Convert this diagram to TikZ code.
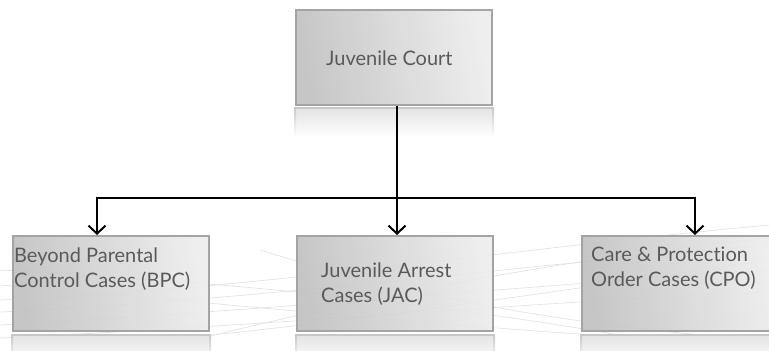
\documentclass[tikz,border=0pt]{standalone}
\usepackage{fontspec}
\setmainfont[Ligatures={NoCommon}]{Lato}
\usetikzlibrary{arrows.meta}
\definecolor{txt}{HTML}{5A5A5A}
\definecolor{edge}{HTML}{A4A4A4}
\tikzset{
  box/.style={draw=edge, line width=2pt, minimum width=196pt, minimum height=95pt,
    inner sep=0pt, shading=axis, left color=black!24, right color=black!7, shading angle=100, fill opacity=0.93},
  lbl/.style={text=txt, anchor=base west, align=left, inner sep=0pt,
    font=\fontsize{20}{25}\selectfont},
  refl/.style={top color=black!11, bottom color=white, draw=none},
  reflside/.style={top color=black!22, bottom color=white, draw=none},
  conn/.style={line width=2pt, black},
  arr/.style={conn, -{Straight Barb[length=8pt,width=17pt,line width=2pt]}},
  swoosh/.style={black!11, line width=0.7pt}
}
\begin{document}
\begin{tikzpicture}[x=1pt,y=-1pt]
\useasboundingbox (0,0) rectangle (769,351);
% background swooshes
\draw[swoosh] (0,300) .. controls (250,290) and (500,250) .. (769,225);
\draw[swoosh] (0,312) .. controls (260,300) and (520,265) .. (769,245);
\draw[swoosh] (0,325) .. controls (270,310) and (540,285) .. (769,270);
\draw[swoosh] (0,338) .. controls (280,325) and (560,300) .. (769,292);
\draw[swoosh] (0,285) .. controls (200,300) and (450,330) .. (769,345);
\draw[swoosh] (150,351) .. controls (350,300) and (550,260) .. (769,238);
\draw[swoosh] (40,351) .. controls (300,330) and (500,300) .. (769,260);
\draw[swoosh] (0,270) .. controls (300,285) and (560,320) .. (700,351);
\draw[swoosh] (260,250) .. controls (420,300) and (600,330) .. (769,340);
% reflections
\foreach \cx/\ty in {394/107,111/334,395/334,680/334}{
  \fill[refl] (\cx-99,\ty) rectangle (\cx+99,\ty+30);
  \fill[black!22] (\cx-99,\ty) rectangle (\cx+99,\ty+1.5);
  \fill[reflside] (\cx-100,\ty) rectangle (\cx-98,\ty+30);
  \fill[reflside] (\cx+98,\ty) rectangle (\cx+100,\ty+30);
}
% boxes
\node[box] (court) at (394,57.5) {};
\node[box] (bpc) at (111,283.5) {};
\node[box] (jac) at (395,283.5) {};
\node[box] (cpo) at (680,283.5) {};
% labels (anchor on last line's baseline)
\node[lbl] (tcourt) at (326,65) {Juvenile Court};
\node[lbl] (tbpc) at (14,287) {Beyond Parental\\Control Cases (BPC)};
\node[lbl] (tjac) at (321,302) {Juvenile Arrest\\Cases (JAC)};
\node[lbl] (tcpo) at (591,286) {Care \& Protection\\Order Cases (CPO)};
% connectors
\coordinate (split) at (397,198);
\draw[conn] ([xshift=3pt]court.south) -- (split);
\draw[arr] (split) -| ([xshift=-14pt]bpc.north);
\draw[arr] (split) -- ([xshift=2pt]jac.north);
\draw[arr] (split) -| ([xshift=15pt]cpo.north);
\end{tikzpicture}
\end{document}
